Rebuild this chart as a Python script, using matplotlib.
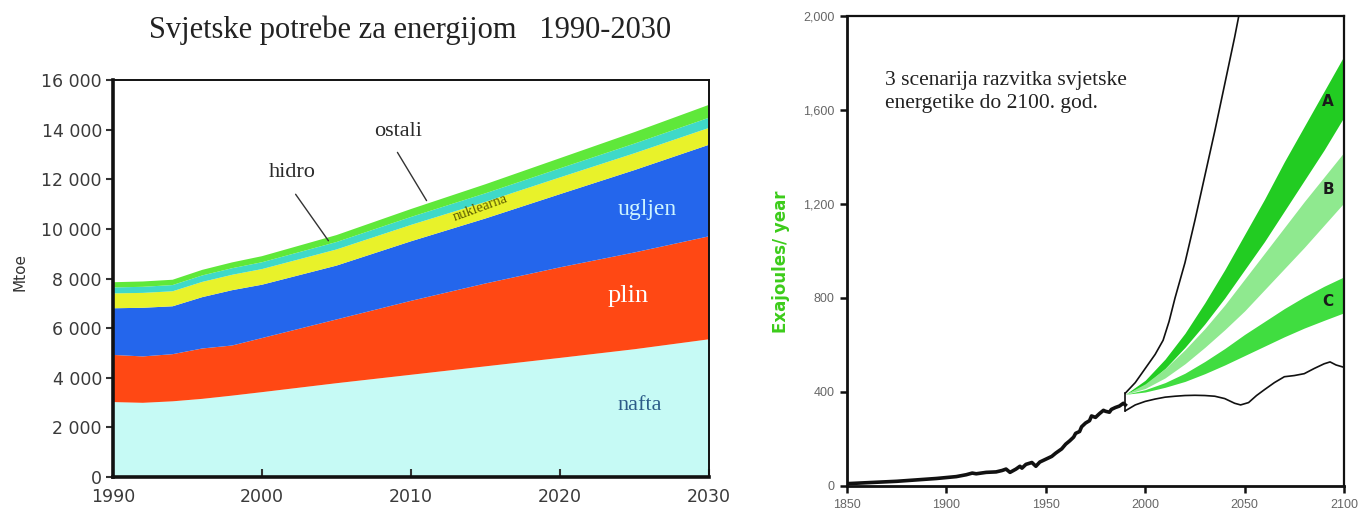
import matplotlib
matplotlib.use("Agg")
import matplotlib.pyplot as plt
import numpy as np

# ---------------- Left chart data (Mtoe) ----------------
years_l = [1990, 1992, 1994, 1996, 1998, 2000, 2005, 2010, 2015, 2020, 2025, 2030]
nafta = [3020, 2990, 3050, 3150, 3280, 3420, 3780, 4120, 4460, 4800, 5150, 5550]
plin = [1900, 1870, 1900, 2030, 2020, 2180, 2570, 2980, 3340, 3650, 3900, 4150]
ugljen = [1880, 1960, 1930, 2070, 2230, 2150, 2170, 2400, 2620, 2950, 3320, 3690]
nuklearna = [600, 600, 605, 615, 620, 630, 650, 660, 670, 675, 678, 680]
hidro = [240, 245, 250, 260, 265, 275, 300, 320, 345, 365, 390, 410]
ostali = [210, 215, 215, 225, 235, 245, 280, 320, 365, 410, 462, 520]
yticks_l = [0, 2000, 4000, 6000, 8000, 10000, 12000, 14000, 16000]
yticklabels_l = ["0", "2 000", "4 000", "6 000", "8 000", "10 000", "12 000", "14 000", "16 000"]
xticks_l = [1990, 2000, 2010, 2020, 2030]

# ---------------- Right chart data (EJ/year) ----------------
hist_years = [1850, 1855, 1860, 1865, 1870, 1875, 1880, 1885, 1890, 1895, 1900, 1905,
              1910, 1913, 1915, 1920, 1925, 1928, 1930, 1932, 1935, 1937, 1938, 1940,
              1943, 1945, 1947, 1950, 1953, 1955, 1958, 1960, 1962, 1964, 1965, 1967,
              1968, 1970, 1972, 1973, 1975, 1977, 1979, 1980, 1982, 1983, 1985, 1987,
              1989, 1990]
hist_vals = [10, 12, 14, 16, 18, 20, 23, 26, 29, 32, 36, 40,
             48, 55, 52, 58, 60, 66, 72, 58, 72, 84, 76, 92,
             100, 84, 102, 114, 126, 140, 158, 178, 192, 208, 224, 232,
             252, 268, 278, 298, 292, 308, 322, 318, 314, 326, 334, 340,
             352, 345]

low_years = [1990, 1995, 2000, 2005, 2010, 2015, 2020, 2025, 2030, 2035, 2040, 2045,
             2048, 2052, 2056, 2060, 2065, 2070, 2075, 2080, 2085, 2090, 2093, 2096, 2100]
low_vals = [320, 345, 360, 370, 378, 382, 385, 386, 385, 382, 372, 352,
            345, 355, 385, 410, 440, 465, 470, 478, 500, 520, 528, 515, 505]

high_years = [1990, 1995, 2000, 2005, 2009, 2012, 2015, 2020, 2025, 2030, 2035, 2040, 2045, 2048]
high_vals = [395, 440, 500, 560, 620, 700, 800, 950, 1130, 1320, 1510, 1710, 1910, 2040]

band_years = [1990, 2000, 2010, 2020, 2030, 2040, 2050, 2060, 2070, 2080, 2090, 2100]
a_upper = [390, 450, 540, 650, 780, 920, 1070, 1220, 1380, 1530, 1680, 1830]
a_lower = [390, 430, 500, 590, 690, 800, 920, 1040, 1170, 1300, 1430, 1570]
b_upper = [390, 435, 500, 580, 670, 770, 880, 990, 1100, 1210, 1315, 1420]
b_lower = [390, 415, 460, 520, 590, 665, 745, 835, 925, 1015, 1110, 1205]
c_upper = [390, 410, 440, 480, 530, 585, 645, 700, 755, 805, 850, 890]
c_lower = [390, 400, 420, 445, 478, 515, 555, 595, 635, 672, 705, 737]

yticks_r = [0, 400, 800, 1200, 1600, 2000]
yticklabels_r = ["0", "400", "800", "1,200", "1,600", "2,000"]
xticks_r = [1850, 1900, 1950, 2000, 2050, 2100]

W, H = 1369, 520
fig = plt.figure(figsize=(W / 100, H / 100), dpi=100)


def fx(x):
    return x / W


def fy(y):
    return 1 - y / H


# ---------------- Left axes ----------------
axL = fig.add_axes([fx(113), fy(477), (709 - 113) / W, (477 - 80) / H])
colors_l = ["#c6faf5", "#ff4814", "#2466ec", "#e8f22a", "#3fd9c8", "#5fe83a"]
axL.stackplot(years_l, nafta, plin, ugljen, nuklearna, hidro, ostali,
              colors=colors_l, linewidth=0)
axL.set_xlim(1990, 2030)
axL.set_ylim(0, 16000)
axL.set_yticks(yticks_l)
axL.set_yticklabels(yticklabels_l)
axL.set_xticks(xticks_l)
axL.set_xticklabels([str(v) for v in xticks_l])
for s in ["left", "bottom"]:
    axL.spines[s].set_linewidth(2.6)
    axL.spines[s].set_color("#111111")
for s in ["top", "right"]:
    axL.spines[s].set_linewidth(1.4)
    axL.spines[s].set_color("#111111")
axL.tick_params(axis="y", direction="out", length=5, width=1.5, labelsize=12.5,
                colors="#333333", pad=3)
axL.tick_params(axis="x", direction="in", length=6, width=1.5, labelsize=12.5,
                colors="#333333", pad=8)
for lab in axL.get_yticklabels() + axL.get_xticklabels():
    lab.set_color("#3a3a3a")
axL.set_facecolor("white")

fig.text(fx(410), fy(30), "Svjetske potrebe za energijom   1990-2030",
         family="Liberation Serif", fontsize=22, ha="center", va="center", color="#222222")
fig.text(fx(20), fy(272), "Mtoe", rotation=90, fontsize=11, ha="center", va="center",
         color="#333333")

fig.text(fx(640), fy(405), "nafta", family="Liberation Serif", fontsize=16,
         color="#2b5b88", ha="center", va="center")
fig.text(fx(628), fy(296), "plin", family="Liberation Serif", fontsize=19,
         color="white", ha="center", va="center")
fig.text(fx(647), fy(210), "ugljen", family="Liberation Serif", fontsize=17,
         color="#cdf4ff", ha="center", va="center")
fig.text(fx(480), fy(208), "nuklearna", family="Liberation Serif", fontsize=10.5,
         color="#5a5a00", ha="center", va="center", rotation=20)

axL.annotate("", xy=(fx(330), fy(243)), xytext=(fx(294), fy(192)),
             xycoords="figure fraction", textcoords="figure fraction",
             arrowprops=dict(arrowstyle="-", color="#333333", lw=1.0))
fig.text(fx(292), fy(173), "hidro", family="Liberation Serif", fontsize=16,
         color="#2a2a2a", ha="center", va="center")
axL.annotate("", xy=(fx(428), fy(203)), xytext=(fx(396), fy(150)),
             xycoords="figure fraction", textcoords="figure fraction",
             arrowprops=dict(arrowstyle="-", color="#333333", lw=1.0))
fig.text(fx(398), fy(132), "ostali", family="Liberation Serif", fontsize=16,
         color="#2a2a2a", ha="center", va="center")

# ---------------- Right axes ----------------
axR = fig.add_axes([fx(847), fy(486), (1344 - 847) / W, (486 - 16) / H])
axR.fill_between(band_years, a_lower, a_upper, color="#22cc22", linewidth=0)
axR.fill_between(band_years, b_lower, b_upper, color="#8fe98f", linewidth=0)
axR.fill_between(band_years, c_lower, c_upper, color="#40dd40", linewidth=0)
axR.plot(hist_years, hist_vals, color="#111111", lw=2.6, solid_joinstyle="round")
axR.plot(low_years, low_vals, color="#111111", lw=1.2)
axR.plot(high_years, high_vals, color="#111111", lw=1.2)
axR.plot([1990, 1990], [low_vals[0], high_vals[0]], color="#111111", lw=1.2)
axR.set_xlim(1850, 2100)
axR.set_ylim(0, 2000)
axR.set_yticks(yticks_r)
axR.set_yticklabels(yticklabels_r)
axR.set_xticks(xticks_r)
axR.set_xticklabels([str(v) for v in xticks_r])
for s in axR.spines.values():
    s.set_linewidth(1.6)
    s.set_color("#111111")
axR.spines["left"].set_linewidth(2.0)
axR.spines["bottom"].set_linewidth(2.0)
axR.tick_params(axis="both", direction="out", length=5, width=1.8,
                labelsize=9, colors="#111111", pad=4)
for lab in axR.get_yticklabels() + axR.get_xticklabels():
    lab.set_color("#666666")
    lab.set_family("Liberation Sans")

fig.text(fx(781), fy(262), "Exajoules/ year", rotation=90, fontsize=12,
         fontweight="bold", color="#3ccc1a", ha="center", va="center")
fig.text(fx(885), fy(92), "3 scenarija razvitka svjetske\nenergetike do 2100. god.",
         family="Liberation Serif", fontsize=15.5, color="#222222",
         ha="left", va="center", linespacing=1.35)
for lbl, yy in [("A", 102), ("B", 190), ("C", 302)]:
    fig.text(fx(1328), fy(yy), lbl, fontsize=11, fontweight="bold", color="#1a1a1a",
             ha="center", va="center")

fig.savefig("out.png", dpi=100)
